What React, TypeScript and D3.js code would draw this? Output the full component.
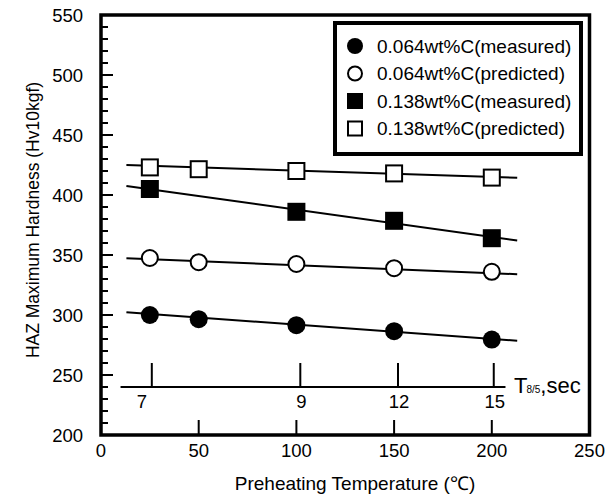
import React from "react";
import * as d3 from "d3";

// Preheating temperatures (°C) at which hardness was evaluated
const temps = [25, 50, 100, 150, 200];
const temps138Measured = [25, 100, 150, 200];

// HAZ maximum hardness (Hv10kgf)
const measured064 = [300, 296.5, 291.5, 286.5, 279.5];
const predicted064 = [347.5, 344, 342.5, 339, 336];
const measured138 = [405, 386, 378.5, 364];
const predicted138 = [423, 421.5, 420, 418, 414.5];

// Straight trend lines (start / end temperature and hardness)
const fitTemps = [13, 213];
const fit064Measured = [302.2, 278.6];
const fit064Predicted = [347.2, 334];
const fit138Measured = [407.5, 362];
const fit138Predicted = [425, 414.4];

// Cooling time T8/5 axis drawn inside the plot
const t85Temps = [26, 102, 152, 201];
const t85Labels = ["7", "9", "12", "15"];
const t85Extent = [10, 207];
const t85Level = 240;

// Axis ticks
const xTicks = [0, 50, 100, 150, 200, 250];
const yTicks = [200, 250, 300, 350, 400, 450, 500, 550];

const legendLabels = [
  "0.064wt%C(measured)",
  "0.064wt%C(predicted)",
  "0.138wt%C(measured)",
  "0.138wt%C(predicted)",
];

const W = 615;
const H = 499;
const FONT = "'Liberation Sans', Arial, Helvetica, sans-serif";

const x = d3.scaleLinear().domain([0, 250]).range([101, 589.5]);
const y = d3.scaleLinear().domain([200, 550]).range([435, 15]);

const lineGen = d3
  .line<[number, number]>()
  .x((d) => x(d[0]))
  .y((d) => y(d[1]));

type Shape = "circleFilled" | "circleOpen" | "squareFilled" | "squareOpen";

function Marker({ cx, cy, shape, size }: { cx: number; cy: number; shape: Shape; size: number }) {
  const filled = shape === "circleFilled" || shape === "squareFilled";
  const sw = filled ? 0 : 2;
  const r = filled ? size / 2 : size / 2 - 1;
  if (shape.startsWith("circle")) {
    return <circle cx={cx} cy={cy} r={r} fill={filled ? "#000" : "#fff"} stroke="#000" strokeWidth={sw} />;
  }
  return (
    <rect
      x={cx - r}
      y={cy - r}
      width={r * 2}
      height={r * 2}
      fill={filled ? "#000" : "#fff"}
      stroke="#000"
      strokeWidth={sw}
    />
  );
}

const series: { xs: number[]; ys: number[]; fit: number[]; shape: Shape }[] = [
  { xs: temps, ys: measured064, fit: fit064Measured, shape: "circleFilled" },
  { xs: temps, ys: predicted064, fit: fit064Predicted, shape: "circleOpen" },
  { xs: temps138Measured, ys: measured138, fit: fit138Measured, shape: "squareFilled" },
  { xs: temps, ys: predicted138, fit: fit138Predicted, shape: "squareOpen" },
];

export default function App() {
  const minorY = d3.range(200, 551, 10);
  const legendX = 335;
  const legendY = 23;
  const legendW = 246;
  const legendH = 131;
  const rowY = (i: number) => 46 + i * 27.5;

  return (
    <svg
      width={W}
      height={H}
      style={{ position: "absolute", left: 0, top: 0, background: "#fff" }}
      fontFamily={FONT}
    >
      <rect width={W} height={H} fill="#fff" />

      {/* y ticks on the left frame, pointing inward */}
      {minorY.map((v) => (
        <line
          key={"yt" + v}
          x1={x(0)}
          x2={x(0) + (v % 50 === 0 ? 12 : 7)}
          y1={y(v)}
          y2={y(v)}
          stroke="#000"
          strokeWidth={2}
        />
      ))}
      {/* x ticks on the bottom frame, pointing inward */}
      {xTicks.slice(1, -1).map((v) => (
        <line key={"xt" + v} x1={x(v)} x2={x(v)} y1={y(200)} y2={y(200) - 15} stroke="#000" strokeWidth={2} />
      ))}

      {/* frame */}
      <rect
        x={x(0)}
        y={y(550)}
        width={x(250) - x(0)}
        height={y(200) - y(550)}
        fill="none"
        stroke="#000"
        strokeWidth={3.5}
      />

      {/* tick labels */}
      {yTicks.map((v) => (
        <text key={"yl" + v} x={83} y={y(v)} dy="0.36em" textAnchor="end" fontSize={18.5} fill="#000">
          {v}
        </text>
      ))}
      {xTicks.map((v) => (
        <text key={"xl" + v} x={x(v)} y={457} textAnchor="middle" fontSize={18.5} fill="#000">
          {v}
        </text>
      ))}

      {/* axis titles */}
      <text x={355} y={490} textAnchor="middle" fontSize={19} fill="#000">
        Preheating Temperature (℃)
      </text>
      <text
        transform={`translate(39,${220}) rotate(-90)`}
        textAnchor="middle"
        fontSize={17.5}
        fill="#000"
      >
        HAZ Maximum Hardness (Hv10kgf)
      </text>

      {/* T8/5 cooling time axis */}
      <line
        x1={x(t85Extent[0])}
        x2={x(t85Extent[1])}
        y1={y(t85Level)}
        y2={y(t85Level)}
        stroke="#000"
        strokeWidth={2}
      />
      {t85Temps.map((t, i) => (
        <g key={"t85" + i}>
          <line x1={x(t)} x2={x(t)} y1={y(t85Level)} y2={y(t85Level) - 24} stroke="#000" strokeWidth={2} />
          <text
            x={x(t) + (i === 0 ? -10 : 1)}
            y={408}
            textAnchor="middle"
            fontSize={18.5}
            fill="#000"
          >
            {t85Labels[i]}
          </text>
        </g>
      ))}
      <text x={514} y={393} fontSize={22} fill="#000">
        T
        <tspan fontSize={10} dx={-1}>
          8/5
        </tspan>
        <tspan>,sec</tspan>
      </text>

      {/* trend lines */}
      {series.map((s, i) => (
        <path
          key={"fit" + i}
          d={lineGen(fitTemps.map((t, j) => [t, s.fit[j]] as [number, number])) || ""}
          fill="none"
          stroke="#000"
          strokeWidth={2}
        />
      ))}

      {/* data markers */}
      {series.map((s, i) =>
        s.xs.map((t, j) => (
          <Marker key={`m${i}-${j}`} cx={x(t)} cy={y(s.ys[j])} shape={s.shape} size={18} />
        ))
      )}

      {/* legend */}
      <rect x={legendX} y={legendY} width={legendW} height={legendH} fill="#fff" stroke="#000" strokeWidth={4} />
      {legendLabels.map((label, i) => (
        <g key={"lg" + i}>
          <Marker cx={355} cy={rowY(i)} shape={series[i].shape} size={16} />
          <text x={377} y={rowY(i)} dy="0.36em" fontSize={19} fill="#000">
            {label}
          </text>
        </g>
      ))}
    </svg>
  );
}
